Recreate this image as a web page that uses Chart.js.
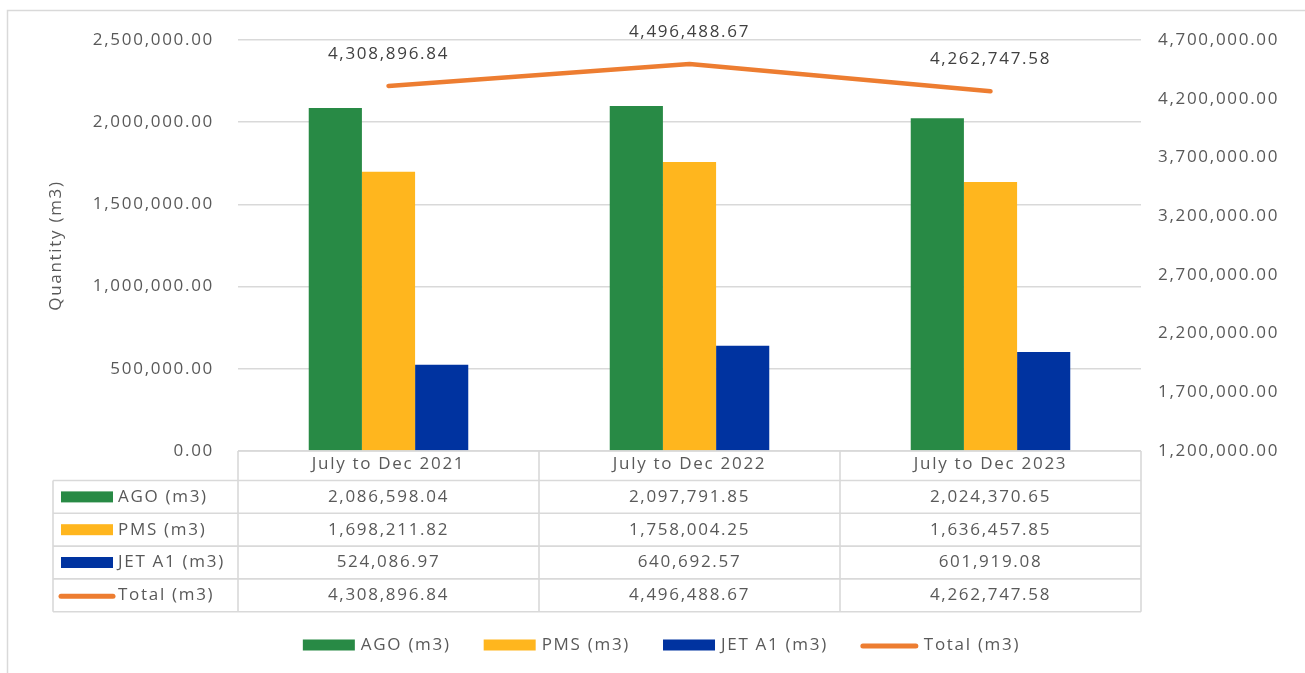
<!DOCTYPE html>
<html><head><meta charset="utf-8">
<script src="https://cdn.jsdelivr.net/npm/chart.js@4.4.1/dist/chart.umd.min.js"></script>
<style>html,body{margin:0;padding:0;background:#fff;}#wrap{position:relative;width:1305px;height:673px;}</style>
</head><body><div id="wrap"><canvas id="c"></canvas></div>
<script>
const categories = ['July to Dec 2021', 'July to Dec 2022', 'July to Dec 2023'];
const agoValues = [2086598.04, 2097791.85, 2024370.65];
const pmsValues = [1698211.82, 1758004.25, 1636457.85];
const jetValues = [524086.97, 640692.57, 601919.08];
const totalValues = [4308896.84, 4496488.67, 4262747.58];
const seriesNames = ['AGO (m3)', 'PMS (m3)', 'JET A1 (m3)', 'Total (m3)'];
const seriesColors = ['#288A45', '#FFB61E', '#0033A0', '#ED7D31'];
const leftAxis = { min: 0, max: 2500000, step: 500000 };
const rightAxis = { min: 1200000, max: 4700000, step: 500000 };
const yTitle = 'Quantity (m3)';

const FONT = { family: '"Open Sans", sans-serif', size: 17 };
const TXT = '#595959';
const LS = '1.7px';
const fmt = v => Number(v).toLocaleString('en-US', { minimumFractionDigits: 2, maximumFractionDigits: 2 });

const spacingPlugin = {
  id: 'spacing',
  beforeLayout(chart) { chart.ctx.letterSpacing = LS; },
  beforeDraw(chart) {
    const ctx = chart.ctx;
    ctx.letterSpacing = LS;
    ctx.save();
    ctx.strokeStyle = '#d9d9d9';
    ctx.lineWidth = 1.5;
    ctx.strokeRect(7.5, 10.5, 1400, 700);
    ctx.restore();
  }
};

const tablePlugin = {
  id: 'dataTable',
  afterDraw(chart) {
    const ctx = chart.ctx;
    const xs = chart.scales.x;
    const area = chart.chartArea;
    const top = area.bottom;
    const headerH = 29.5, rowH = 32.8, leftX = 53;
    const colW = (area.right - area.left) / categories.length;
    const rowsTop = top + headerH;
    const bottom = rowsTop + rowH * seriesNames.length;
    ctx.save();
    ctx.letterSpacing = LS;
    ctx.strokeStyle = '#d9d9d9';
    ctx.lineWidth = 1.6;
    ctx.beginPath();
    ctx.moveTo(area.left, top); ctx.lineTo(area.right, top);
    for (let r = 0; r <= seriesNames.length; r++) {
      const y = rowsTop + r * rowH;
      ctx.moveTo(leftX, y); ctx.lineTo(area.right, y);
    }
    ctx.moveTo(leftX, rowsTop); ctx.lineTo(leftX, bottom);
    for (let i = 0; i <= categories.length; i++) {
      const x = area.left + i * colW;
      ctx.moveTo(x, top); ctx.lineTo(x, bottom);
    }
    ctx.stroke();

    const rows = [agoValues, pmsValues, jetValues, totalValues];
    ctx.font = `${FONT.size}px ${FONT.family}`;
    ctx.fillStyle = TXT;
    ctx.textBaseline = 'middle';
    rows.forEach((vals, r) => {
      const cy = rowsTop + r * rowH + rowH / 2;
      // key
      if (r < 3) {
        ctx.fillStyle = seriesColors[r];
        ctx.fillRect(61, cy - 5.5, 52, 11);
      } else {
        ctx.strokeStyle = seriesColors[r];
        ctx.lineWidth = 5;
        ctx.lineCap = 'round';
        ctx.beginPath(); ctx.moveTo(61, cy + 1); ctx.lineTo(113, cy + 1); ctx.stroke();
      }
      ctx.fillStyle = TXT;
      ctx.textAlign = 'left';
      ctx.fillText(seriesNames[r], 118, cy);
      ctx.textAlign = 'center';
      vals.forEach((v, i) => {
        ctx.fillText(fmt(v), xs.getPixelForValue(i), cy);
      });
    });

    // bottom legend
    const ly = 645;
    const keyW = [52, 52, 52, 57];
    const gapKT = 6, gapItems = 33;
    const widths = seriesNames.map((n, i) => keyW[i] + gapKT + ctx.measureText(n).width);
    const total = widths.reduce((a, b) => a + b, 0) + gapItems * (seriesNames.length - 1);
    let x = 661.5 - total / 2;
    seriesNames.forEach((n, i) => {
      if (i < 3) {
        ctx.fillStyle = seriesColors[i];
        ctx.fillRect(x, ly - 5.5, keyW[i], 11);
      } else {
        ctx.strokeStyle = seriesColors[i];
        ctx.lineWidth = 5;
        ctx.lineCap = 'round';
        ctx.beginPath(); ctx.moveTo(x + 2, ly + 1); ctx.lineTo(x + keyW[i] - 2, ly + 1); ctx.stroke();
      }
      ctx.fillStyle = TXT;
      ctx.textAlign = 'left';
      ctx.fillText(n, x + keyW[i] + gapKT, ly);
      x += widths[i] + gapItems;
    });

    // data labels for total line
    const meta = chart.getDatasetMeta(3);
    ctx.fillStyle = '#404040';
    ctx.textAlign = 'center';
    meta.data.forEach((pt, i) => {
      ctx.fillText(fmt(totalValues[i]), pt.x, pt.y - 32);
    });
    ctx.restore();
  }
};

new Chart(document.getElementById('c'), {
  type: 'bar',
  data: {
    labels: categories,
    datasets: [
      { type: 'bar', label: seriesNames[0], data: agoValues, backgroundColor: seriesColors[0], yAxisID: 'y' },
      { type: 'bar', label: seriesNames[1], data: pmsValues, backgroundColor: seriesColors[1], yAxisID: 'y' },
      { type: 'bar', label: seriesNames[2], data: jetValues, backgroundColor: seriesColors[2], yAxisID: 'y' },
      { type: 'line', label: seriesNames[3], data: totalValues, borderColor: seriesColors[3], backgroundColor: seriesColors[3],
        borderWidth: 4.5, borderCapStyle: 'round', borderJoinStyle: 'round', pointRadius: 0, tension: 0, yAxisID: 'y1' }
    ]
  },
  options: {
    responsive: true,
    maintainAspectRatio: false,
    animation: false,
    datasets: { bar: { categoryPercentage: 0.53, barPercentage: 1.0 } },
    layout: { padding: { left: 46, top: 40, right: 0, bottom: 193 } },
    plugins: { legend: { display: false }, tooltip: { enabled: false } },
    scales: {
      x: {
        grid: { display: false, drawTicks: false },
        border: { display: false },
        ticks: { font: FONT, color: TXT, padding: 3, maxRotation: 0 },
        afterFit(s) { s.height = 29; }
      },
      y: {
        position: 'left', min: leftAxis.min, max: leftAxis.max,
        ticks: { stepSize: leftAxis.step, padding: 24, font: FONT, color: TXT, callback: v => fmt(v) },
        grid: { color: '#d9d9d9', lineWidth: 1.4, drawTicks: false },
        border: { display: false },
        title: { display: true, text: yTitle, color: TXT, font: FONT, padding: 0 },
        afterFit(s) { s.width = 192; }
      },
      y1: {
        position: 'right', min: rightAxis.min, max: rightAxis.max,
        ticks: { stepSize: rightAxis.step, padding: 17, font: FONT, color: TXT, callback: v => fmt(v) },
        grid: { display: false, drawTicks: false },
        border: { display: false },
        afterFit(s) { s.width = 164; }
      }
    }
  },
  plugins: [spacingPlugin, tablePlugin]
});
</script></body></html>
